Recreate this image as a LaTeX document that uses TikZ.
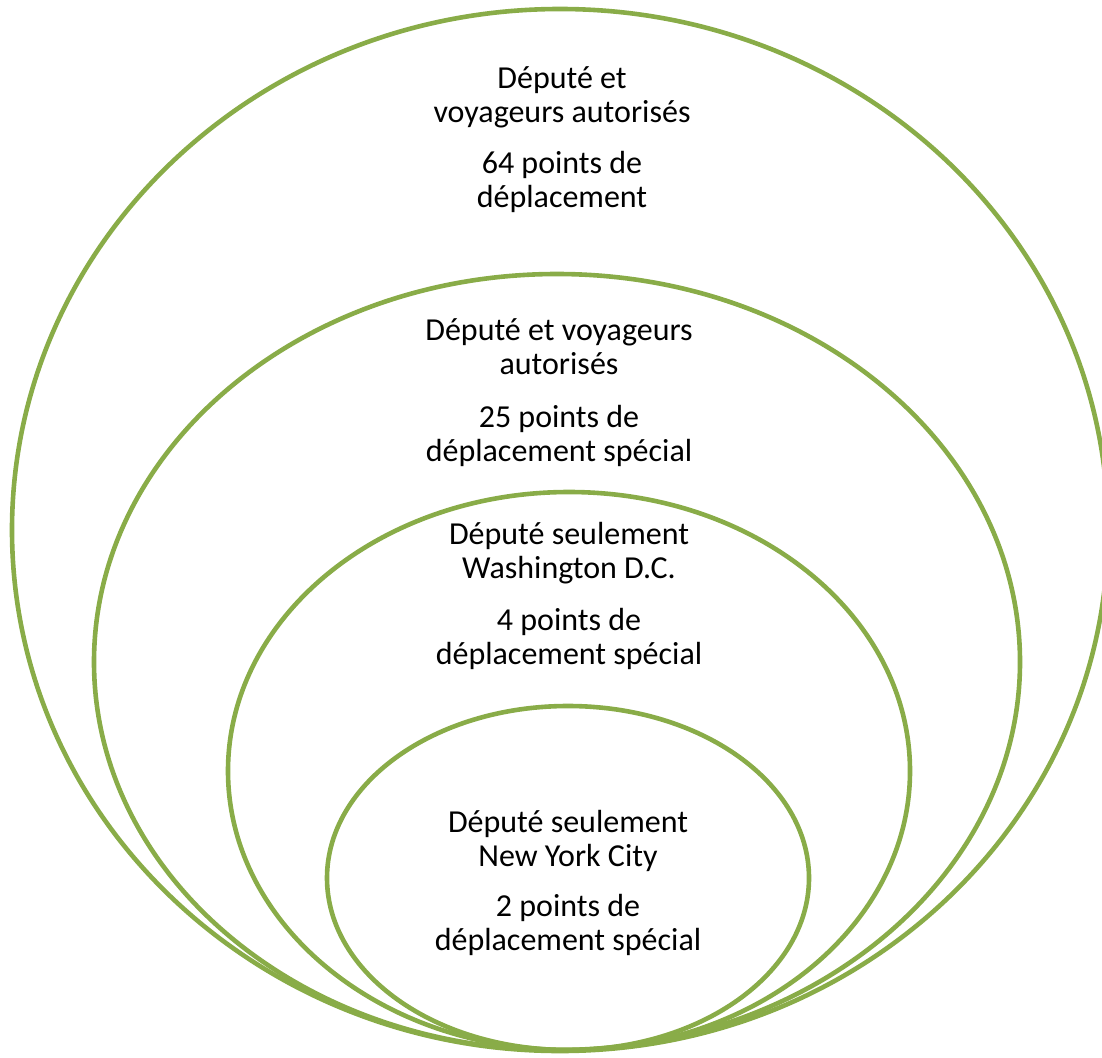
\documentclass[tikz,border=0pt]{standalone}
\usepackage{fontspec}
\setmainfont{Carlito}
\usepackage{tikz}
\usetikzlibrary{positioning}

\definecolor{ringgreen}{RGB}{137,172,72}

\begin{document}
\begin{tikzpicture}[
  x=1pt, y=-1pt,
  ring/.style={draw=ringgreen, line width=4.6pt},
  zone/.style={align=center, inner sep=0pt, anchor=north,
    font=\fontsize{32}{34.5}\selectfont}
]
\useasboundingbox (0,0) rectangle (1102,1057);

% Rings
\draw[ring] (560,530) ellipse [x radius=548, y radius=521];
\draw[ring] (557,662) ellipse [x radius=463, y radius=388];
\draw[ring] (569,771) ellipse [x radius=341, y radius=279];
\draw[ring] (568,878) ellipse [x radius=241, y radius=172];

% Ring 1 - outer
\node[zone] (regular) at (562,66) {
  Député et\\
  voyageurs autorisés\\[16pt]
  64 points de\\
  déplacement
};

% Ring 2
\node[zone] (special) at (559,318) {
  Député et voyageurs\\
  autorisés\\[18pt]
  25 points de\\
  déplacement spécial
};

% Ring 3
\node[zone] (washington) at (569,522) {
  Député seulement\\
  Washington D.C.\\[17pt]
  4 points de\\
  déplacement spécial
};

% Ring 4 - inner
\node[zone] (newyork) at (568,810) {
  Député seulement\\
  New York City\\[15pt]
  2 points de\\
  déplacement spécial
};

\end{tikzpicture}
\end{document}
